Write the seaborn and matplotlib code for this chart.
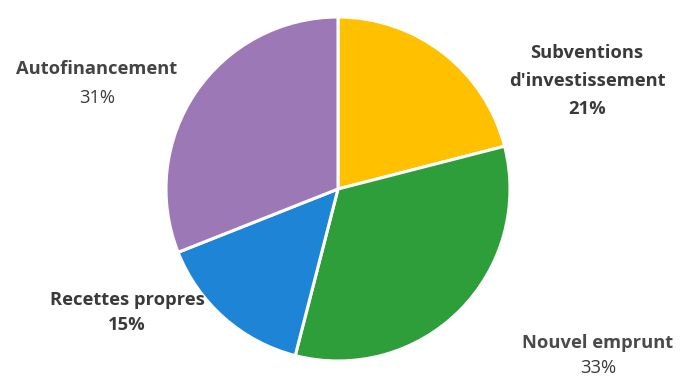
import matplotlib
matplotlib.use("Agg")
import matplotlib.pyplot as plt
import seaborn as sns

categories = ["Subventions\nd'investissement", "Nouvel emprunt", "Recettes propres", "Autofinancement"]
values = [21, 33, 15, 31]
pct_labels = ["21%", "33%", "15%", "31%"]
colors = ["#FFC000", "#2E9E3A", "#1E84D6", "#9C78B6"]

sns.set_theme(style="white")
plt.rcParams['font.family'] = ['Open Sans', 'DejaVu Sans']

W, H = 680, 376
fig = plt.figure(figsize=(W / 100, H / 100), dpi=100)
fig.patch.set_facecolor("white")

cx, cy, r = 338, 189, 172
ax = fig.add_axes([(cx - r) / W, (H - cy - r) / H, 2 * r / W, 2 * r / H])
ax.pie(values, colors=colors, startangle=90, counterclock=False,
       wedgeprops=dict(edgecolor="white", linewidth=2.2), radius=1)
ax.set_xlim(-1, 1)
ax.set_ylim(-1, 1)
ax.set_aspect("equal")
ax.axis("off")

txt = "#3A3A3A"
fs = 13.2
# (x, [line y positions], pct_y, label_weight, label_color, pct_weight) in pixel coordinates
pos = [
    (587, [53, 81], 109, "bold", txt, "bold"),
    (598, [343], 368, "bold", "#4A4A4A", "normal"),
    (127, [300], 325, "bold", txt, "bold"),
    (97, [69], 98, "bold", "#444444", "normal"),
]
for cat, pct, (x, ys, py, lw, lc, pw) in zip(categories, pct_labels, pos):
    for line, y in zip(cat.split("\n"), ys):
        fig.text(x / W, 1 - y / H, line, ha="center", va="center",
                 fontsize=fs, fontweight=lw, color=lc)
    fig.text(x / W, 1 - py / H, pct, ha="center", va="center",
             fontsize=fs, fontweight=pw, color=txt)

fig.savefig("out.png", dpi=100, facecolor="white")
